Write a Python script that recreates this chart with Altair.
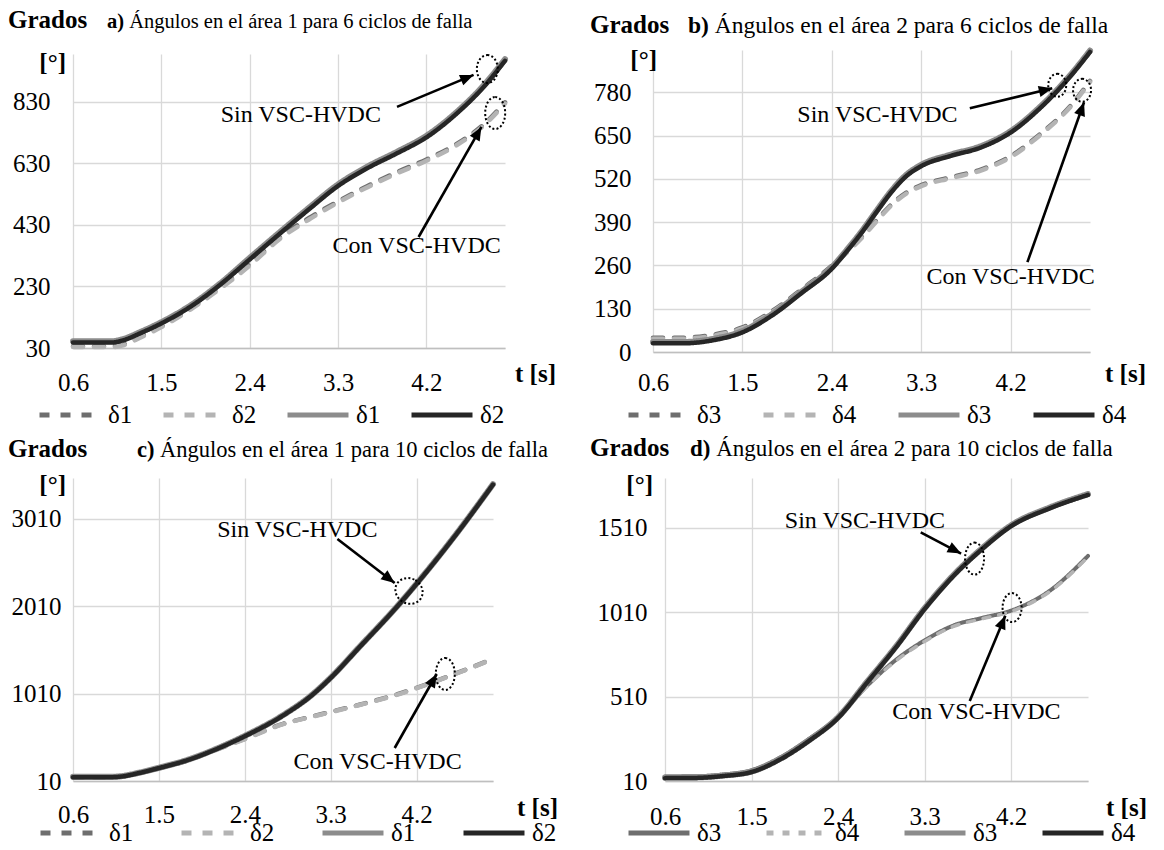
import math
import altair as alt
import pandas as pd

FONT = "Liberation Serif"

# ---------------- data ----------------
x_ticks = [0.6, 1.5, 2.4, 3.3, 4.2]

# panel a) area 1, 6 cycles
t_a = [0.6, 0.8, 1.0, 1.1, 1.3, 1.5, 1.8, 2.1, 2.4, 2.7, 3.0, 3.3, 3.6, 3.9, 4.2, 4.5, 4.8, 5.0]
a_con_1 = [36, 36, 36, 41, 69, 101, 159, 227, 303, 388, 452, 507, 557, 602, 643, 692, 762, 829]
a_con_2 = [33, 33, 33, 38, 66, 98, 156, 223, 298, 383, 447, 503, 553, 598, 639, 688, 758, 825]
a_sin_1 = [52, 52, 52, 58, 84, 114, 169, 240, 323, 405, 485, 562, 620, 668, 720, 795, 890, 969]
a_sin_2 = [48, 48, 48, 54, 80, 110, 165, 236, 318, 400, 480, 557, 615, 663, 715, 790, 885, 964]
a_yticks = [30, 230, 430, 630, 830]

# panel b) area 2, 6 cycles
t_b = [0.6, 0.9, 1.2, 1.5, 1.8, 2.1, 2.4, 2.55, 2.7, 2.85, 3.0, 3.15, 3.3, 3.6, 3.9, 4.2, 4.5, 4.8, 5.0]
b_con_3 = [43, 43, 52, 74, 123, 189, 259, 301, 345, 395, 443, 479, 501, 525, 548, 588, 655, 738, 814]
b_con_4 = [40, 40, 49, 71, 120, 186, 256, 298, 342, 392, 440, 476, 498, 522, 545, 585, 652, 735, 811]
b_sin_3 = [30, 30, 39, 63, 114, 182, 254, 306, 362, 424, 484, 532, 562, 593, 618, 663, 737, 831, 905]
b_sin_4 = [26, 26, 35, 59, 110, 178, 250, 302, 358, 420, 480, 528, 558, 589, 614, 659, 733, 827, 901]
b_yticks = [0, 130, 260, 390, 520, 650, 780]

# panel c) area 1, 10 cycles
t_c = [0.6, 0.8, 1.0, 1.1, 1.3, 1.5, 1.8, 2.1, 2.4, 2.8, 3.1, 3.3, 3.6, 4.0, 4.2, 4.6, 5.0]
c_con_1 = [54, 54, 54, 60, 102, 157, 247, 370, 492, 663, 747, 801, 882, 1002, 1075, 1235, 1407]
c_con_2 = [50, 50, 50, 56, 98, 153, 243, 366, 488, 659, 743, 797, 878, 998, 1071, 1231, 1403]
c_sin_1 = [58, 58, 58, 64, 107, 161, 252, 377, 526, 762, 992, 1192, 1542, 2012, 2267, 2812, 3402]
c_sin_2 = [54, 54, 54, 60, 103, 157, 248, 373, 522, 758, 988, 1188, 1538, 2008, 2263, 2808, 3398]
c_yticks = [10, 1010, 2010, 3010]

# panel d) area 2, 10 cycles
t_d = [0.6, 0.9, 1.2, 1.5, 1.8, 2.1, 2.4, 2.7, 3.0, 3.3, 3.6, 3.9, 4.2, 4.6, 5.0]
d_con_3 = [37, 38, 48, 74, 150, 260, 388, 572, 726, 842, 930, 975, 1018, 1135, 1342]
d_con_4 = [35, 36, 46, 72, 147, 257, 384, 568, 720, 836, 925, 970, 1013, 1130, 1336]
d_sin_3 = [30, 31, 42, 66, 142, 252, 387, 596, 804, 1032, 1228, 1388, 1523, 1628, 1708]
d_sin_4 = [27, 28, 39, 63, 138, 248, 383, 591, 799, 1027, 1223, 1383, 1518, 1623, 1703]
d_yticks = [10, 510, 1010, 1510]

legend_a = ["δ1", "δ2", "δ1", "δ2"]
legend_b = ["δ3", "δ4", "δ3", "δ4"]
kinds = ["Con", "Con", "Sin", "Sin"]

tags = ["a)", "b)", "c)", "d)"]
titles = [
    "Ángulos en el área 1 para 6 ciclos de falla",
    "Ángulos en el área 2 para 6 ciclos de falla",
    "Ángulos en el área 1 para 10 ciclos de falla",
    "Ángulos en el área 2 para 10 ciclos de falla",
]
note_texts = ["Sin VSC-HVDC", "Con VSC-HVDC"]

# annotation anchors in data units (t, value)
a_notes = [(2.92, 788), (4.10, 362)]
b_notes = [(2.86, 711), (4.20, 225)]
c_notes = [(2.95, 2879), (3.79, 227)]
d_notes = [(2.68, 1546), (3.84, 419)]
a_arrows = [(3.90, 814, 4.68, 918), (4.12, 391, 4.76, 749)]
b_arrows = [(3.79, 732, 4.62, 792), (4.37, 270, 4.94, 750)]
c_arrows = [(3.37, 2776, 3.97, 2273), (3.97, 387, 4.41, 1233)]
d_arrows = [(3.26, 1481, 3.68, 1356), (3.77, 484, 4.14, 988)]
a_rings = [(4.82, 937), (4.90, 794)]
b_rings = [(4.67, 801), (4.92, 786)]
c_rings = [(4.12, 2182), (4.50, 1233)]
d_rings = [(3.82, 1326), (4.21, 1036)]

# ---------------- styles ----------------
COLORS = ["#6e6e6e", "#b4b4b4", "#8c8c8c", "#262626"]
DASH_ABC = [[10, 11], [10, 11], [1, 0], [1, 0]]
DASH_D = [[1, 0], [7, 9], [1, 0], [1, 0]]
WID_ABC = [4.5, 4.5, 6, 4.5]
WID_D = [4, 3.5, 6, 4.5]

# ring sizes (w, h px) and tilt
RING_A = [(21, 28, 0), (20, 32, 0)]
RING_B = [(18, 23, 0), (18, 23, 0)]
RING_C = [(28, 25, 30), (19, 32, 0)]
RING_D = [(19, 32, 0), (19, 29, 0)]

ARROW_SHAPE = "M0,0 L-0.42,1 L0.42,1 Z"


def ellipse_path(ratio):
    k = 0.5523
    a = ratio
    return (f"M0,-1 C{k*a:.4f},-1 {a:.4f},{-k:.4f} {a:.4f},0 "
            f"C{a:.4f},{k:.4f} {k*a:.4f},1 0,1 "
            f"C{-k*a:.4f},1 {-a:.4f},{k:.4f} {-a:.4f},0 "
            f"C{-a:.4f},{-k:.4f} {-k*a:.4f},-1 0,-1 Z")


one = pd.DataFrame({"k": [0]})


def ptext(txt, x, y, size, bold=False, align="left"):
    return alt.Chart(one).mark_text(
        text=txt, font=FONT, fontSize=size,
        fontWeight="bold" if bold else "normal",
        align=align, baseline="alphabetic", color="black",
    ).encode(x=alt.value(x), y=alt.value(y))


def make_panel(key, t, series, labels, yticks, ydom, W, H, dashes, widths,
               notes, arrows, rings, ring_style, geo, tag, title):
    names = [f"{key} {k} {l}" for k, l in zip(kinds, labels)]
    rows = []
    for name, vals in zip(names, series):
        for tt, vv in zip(t, vals):
            rows.append({"t": tt, "v": vv, "serie": name})
    df = pd.DataFrame(rows)

    xs = alt.Scale(domain=[0.6, 5.0], nice=False, zero=False)
    ys = alt.Scale(domain=ydom, nice=False, zero=False)
    xaxis = alt.Axis(values=x_ticks, format=".1f", grid=True, ticks=False,
                     domain=True, title=None, labelPadding=geo["xpad"],
                     labelBaseline="alphabetic", labelFlush=False,
                     labelOverlap=False, labelFontSize=25, labelFont=FONT)
    yaxis = alt.Axis(values=yticks, format="d", grid=True, ticks=False, domain=False,
                     title=None, labelPadding=geo["ypad"], labelFontSize=25,
                     labelOverlap=False, labelFlush=False, labelFont=FONT)

    def X(f):
        return alt.X(f, type="quantitative", scale=xs, axis=xaxis)

    def Y(f):
        return alt.Y(f, type="quantitative", scale=ys, axis=yaxis)

    leg = alt.Legend(
        orient="none", legendX=geo["legX"], legendY=H + geo["legY"],
        direction="horizontal", title=None,
        symbolType="stroke", symbolSize=3721, symbolStrokeWidth=5,
        clipHeight=24,
        labelFont=FONT, labelFontSize=25, labelColor="black",
        labelExpr="slice(datum.label, -2)", labelOffset=5,
        columnPadding=geo["colpad"], padding=0, symbolOffset=0,
    )
    color = alt.Color("serie:N", scale=alt.Scale(domain=names, range=COLORS), legend=leg)
    sdash = alt.StrokeDash("serie:N", scale=alt.Scale(domain=names, range=dashes), legend=leg)

    layers = []
    for name, w in zip(names, widths):
        layers.append(
            alt.Chart(df).transform_filter(alt.datum.serie == name)
            .mark_line(strokeWidth=w, strokeCap="round", interpolate="monotone")
            .encode(x=X("t"), y=Y("v"), color=color, strokeDash=sdash)
        )

    kx = W / 4.4
    ky = H / (ydom[1] - ydom[0])

    # arrows
    arr_df = pd.DataFrame([{"t1": a[0], "v1": a[1], "t2": a[2], "v2": a[3],
                            "ang": math.degrees(math.atan2((a[2] - a[0]) * kx,
                                                           (a[3] - a[1]) * ky)) % 360}
                           for a in arrows])
    layers.append(alt.Chart(arr_df).mark_rule(color="black", strokeWidth=2.6).encode(
        x=X("t1"), y=Y("v1"), x2="t2:Q", y2="v2:Q"))
    for i in range(len(arrows)):
        layers.append(alt.Chart(arr_df.iloc[[i]]).mark_point(
            shape=ARROW_SHAPE, size=729, filled=True, color="black", opacity=1,
            angle=float(arr_df["ang"].iloc[i]), strokeWidth=0).encode(x=X("t2"), y=Y("v2")))

    # dotted rings
    for (rt, rv), (rw, rh, rang) in zip(rings, ring_style):
        rdf = pd.DataFrame({"t": [rt], "v": [rv]})
        layers.append(alt.Chart(rdf).mark_point(
            shape=ellipse_path(rw / rh), size=rh * rh, filled=False, stroke="black",
            strokeWidth=2, strokeDash=[2, 2.2], opacity=1, angle=rang).encode(
            x=X("t"), y=Y("v")))

    # note texts
    ndf = pd.DataFrame({"t": [n[0] for n in notes], "v": [n[1] for n in notes],
                        "txt": note_texts})
    layers.append(alt.Chart(ndf).mark_text(font=FONT, fontSize=24, color="black",
                                           align="center", baseline="middle").encode(
        x=X("t"), y=Y("v"), text="txt:N"))

    # panel texts
    tsz = geo["tsize"]
    tagw = (geo["tagem"] + 0.25) * tsz
    layers.append(ptext("Grados", geo["grados"][0], geo["grados"][1], 25, bold=True))
    layers.append(ptext(tag, geo["tag"][0], geo["tag"][1], tsz, bold=True))
    layers.append(ptext(title, geo["tag"][0] + tagw, geo["tag"][1], tsz))
    layers.append(ptext("[°]", geo["deg"][0], geo["deg"][1], 25, bold=True, align="right"))
    layers.append(ptext("t [s]", geo["ts"][0], geo["ts"][1], 25, bold=True))

    return alt.layer(*layers).properties(width=W, height=H).resolve_scale(
        color="shared", strokeDash="shared")


geo_a = dict(xpad=42, ypad=23, legX=-36, legY=55, colpad=28, tsize=20.5, tagem=0.833,
             grados=(-65, -26), tag=(34, -26), deg=(-7, 17), ts=(442, 328))
geo_b = dict(xpad=38, ypad=22, legX=-27, legY=51, colpad=39, tsize=23.5, tagem=0.889,
             grados=(-63, -17), tag=(35, -17), deg=(4, 18), ts=(452, 332))
geo_c = dict(xpad=41, ypad=12, legX=-35, legY=40, colpad=45, tsize=22.5, tagem=0.777,
             grados=(-65, -21), tag=(64, -21), deg=(-7, 15), ts=(444, 338))
geo_d = dict(xpad=43, ypad=18, legX=-39, legY=40, colpad=42, tsize=23, tagem=0.889,
             grados=(-75, -22), tag=(25, -22), deg=(-12, 15), ts=(441, 338))

pa = make_panel("a", t_a, [a_con_1, a_con_2, a_sin_1, a_sin_2], legend_a, a_yticks,
                [30, 986], 432, 294, DASH_ABC, WID_ABC, a_notes, a_arrows, a_rings,
                RING_A, geo_a, tags[0], titles[0])
pb = make_panel("b", t_b, [b_con_3, b_con_4, b_sin_3, b_sin_4], legend_b, b_yticks,
                [0, 907], 437, 302, DASH_ABC, WID_ABC, b_notes, b_arrows, b_rings,
                RING_B, geo_b, tags[1], titles[1])
pc = make_panel("c", t_c, [c_con_1, c_con_2, c_sin_1, c_sin_2], legend_a, c_yticks,
                [10, 3473], 420, 303, DASH_ABC, WID_ABC, c_notes, c_arrows, c_rings,
                RING_C, geo_c, tags[2], titles[2])
pd_ = make_panel("d", t_d, [d_con_3, d_con_4, d_sin_3, d_sin_4], legend_b, d_yticks,
                 [10, 1803], 423, 303, DASH_D, WID_D, d_notes, d_arrows, d_rings,
                 RING_D, geo_d, tags[3], titles[3])

row1 = alt.hconcat(pa, pb, spacing=148, bounds="flush", center=True).resolve_scale(
    color="independent", strokeDash="independent").resolve_legend(
    color="independent", strokeDash="independent")
row2 = alt.hconcat(pc, pd_, spacing=172, bounds="flush").resolve_scale(
    color="independent", strokeDash="independent").resolve_legend(
    color="independent", strokeDash="independent")

chart = alt.vconcat(row1, row2, spacing=8).resolve_scale(
    color="independent", strokeDash="independent"
).resolve_legend(
    color="independent", strokeDash="independent"
).properties(
    padding={"top": 0, "bottom": -2, "left": 0, "right": 0}, background="white"
).configure(
    font=FONT
).configure_view(
    stroke=None
).configure_axis(
    gridColor="#d9d9d9", gridWidth=1.3, domainColor="#bfbfbf", domainWidth=1.3,
    labelFont=FONT, labelColor="black",
)

chart.save("out.html", embed_options={"renderer": "svg", "actions": False})
